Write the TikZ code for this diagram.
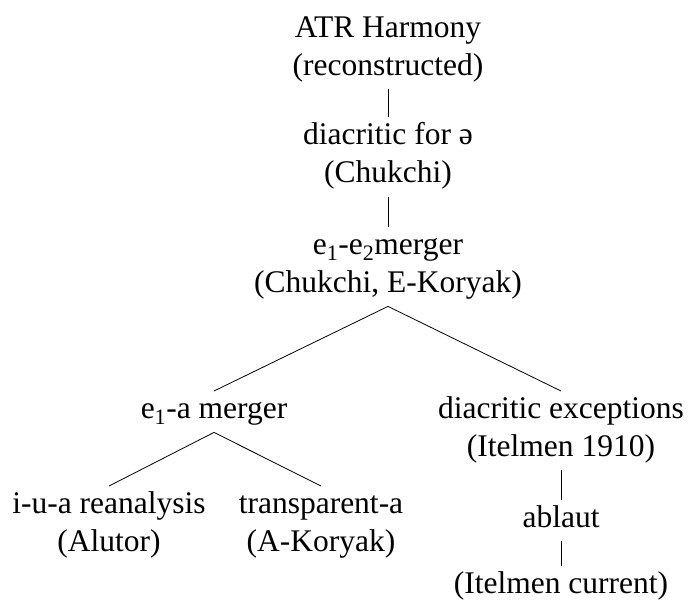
\documentclass[tikz,border=0pt]{standalone}
\usepackage{fontspec}
\setmainfont{Liberation Serif}
\newcommand\ls{\rule[-9pt]{0pt}{31pt}}
\begin{document}
\begin{tikzpicture}[x=1pt,y=1pt,
  tn/.style={anchor=north, align=center, inner xsep=2pt, inner ysep=5pt,
    font=\fontsize{31.5}{38}\selectfont},
  edge/.style={line width=0.8pt}]
\useasboundingbox (0,0) rectangle (688,-600);
\node[tn] (root) at (388,-10) {\ls ATR Harmony\\\ls (reconstructed)};
\node[tn] (dia) at (388,-117) {\ls diacritic for ə\\\ls (Chukchi)};
\node[tn] (ee) at (388,-227) {\ls e\textsubscript{1}-e\textsubscript{2}merger\\\ls (Chukchi, E-Koryak)};
\node[tn] (ea) at (214,-391) {\ls e\textsubscript{1}-a merger};
\node[tn] (dex) at (561,-391) {\ls diacritic exceptions\\\ls (Itelmen 1910)};
\node[tn] (iua) at (109,-486) {\ls i-u-a reanalysis\\\ls (Alutor)};
\node[tn] (tra) at (321,-486) {\ls transparent-a\\\ls (A-Koryak)};
\node[tn] (abl) at (561,-500) {\ls ablaut};
\node[tn] (cur) at (561,-566) {\ls (Itelmen current)};
\draw[edge] (root.south) -- (dia.north);
\draw[edge] (dia.south) -- (ee.north);
\draw[edge] (ee.south) -- (ea.north);
\draw[edge] (ee.south) -- (dex.north);
\draw[edge] (ea.south) -- (iua.north);
\draw[edge] (ea.south) -- (tra.north);
\draw[edge] (dex.south) -- (abl.north);
\draw[edge] (abl.south) -- (cur.north);
\end{tikzpicture}
\end{document}
